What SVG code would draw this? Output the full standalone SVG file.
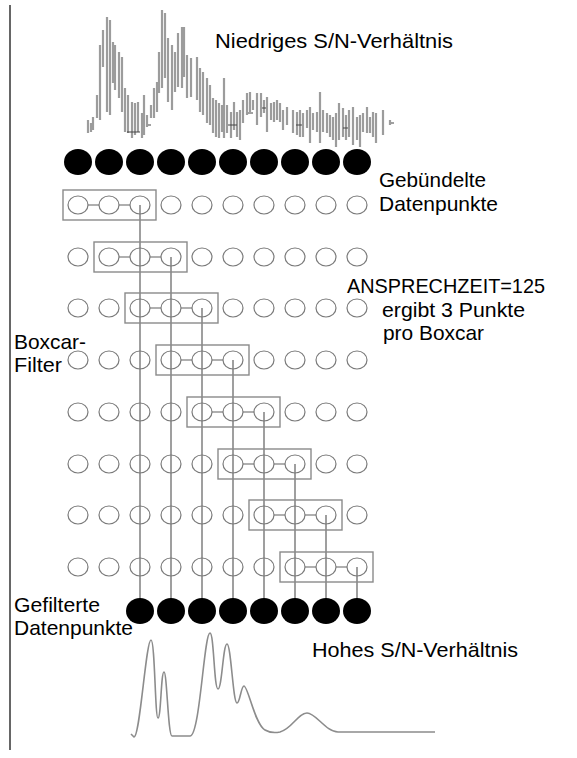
<svg xmlns="http://www.w3.org/2000/svg" width="577" height="758" viewBox="0 0 577 758">
<style>
.bg{fill:#ffffff}
.frame{stroke:#333;stroke-width:1.5;fill:none}
.noise{stroke:#9c9c9c;stroke-width:2.2;fill:none}
.tick{stroke:#444;stroke-width:1;fill:none}
.dot{fill:#000}
.oc{fill:none;stroke:#7a7a7a;stroke-width:1.2}
.box{fill:none;stroke:#8a8a8a;stroke-width:1.4}
.link{stroke:#7a7a7a;stroke-width:1.2}
.conn{stroke:#505050;stroke-width:1.1;fill:none}
.curve{fill:none;stroke:#8c8c8c;stroke-width:1.6;stroke-linejoin:round}
.lbl{font-family:"Liberation Sans Narrow","Liberation Sans",Arial,sans-serif;font-size:21px;fill:#000}
</style>
<defs>
<ellipse id="o" rx="10" ry="9" class="oc"/>
<ellipse id="f" rx="14" ry="13" class="dot"/>
</defs>
<rect class="bg" x="0" y="0" width="577" height="758"/>
<line class="frame" x1="10" y1="5" x2="10" y2="750"/>

<g id="signal-noisy">
<path class="noise" d="M88,120V133M91,123V132M93,117V130M97,95V118M100,45V120M103,30V67M107,17V112M110,20V115M113,42V83M115,45V90M119,52V98M122,57V112M125,88V132M128,95V133M132,102V138M135,103V135M138,102V132M142,113V138M144,95V135M147,115V127M151,105V118M154,88V118M157,82V112M159,52V93M162,10V88M165,13V78M168,38V102M172,45V110M175,52V92M178,33V87M182,27V88M184,27V77M187,55V98M191,58V97M197,57V100M200,68V112M203,72V115M207,78V123M210,85V125M213,98V133M216,100V137M219,103V138M222,105V132M224,78V138M227,105V133M231,112V138M234,102V130M237,112V137M240,110V140M243,100V123M247,93V115M250,92V112M253,100V110M257,93V125M261,93V117M264,100V113M267,97V132M271,103V120M274,102V122M277,100V120M280,103V122M283,110V130M287,107V125M293,110V133M297,112V135M300,110V137M303,113V137M307,110V128M310,107V143M313,113V130M317,112V132M320,92V143M323,110V132M327,113V133M330,115V137M333,117V140M336,113V147M339,103V140M343,108V137M346,115V140M349,110V137M353,107V145M357,117V140M360,115V147M363,113V132M367,107V133M370,117V133M373,112V137M376,113V143M383,110V135M390,120V125"/>
<path class="tick" d="M127,132H140M148,125H151M228,125H237M248,113H253M262,108H266M296,125H302M343,128H348M391,123H394"/>
</g>

<g id="dots-binned">
<use href="#f" x="78" y="162"/><use href="#f" x="109" y="162"/><use href="#f" x="140" y="162"/><use href="#f" x="171" y="162"/><use href="#f" x="202" y="162"/><use href="#f" x="233" y="162"/><use href="#f" x="264" y="162"/><use href="#f" x="295" y="162"/><use href="#f" x="326" y="162"/><use href="#f" x="357" y="162"/>
</g>

<g id="connectors">
<line class="conn" x1="140" y1="205" x2="140" y2="600"/>
<line class="conn" x1="171" y1="257" x2="171" y2="600"/>
<line class="conn" x1="202" y1="308" x2="202" y2="600"/>
<line class="conn" x1="233" y1="360" x2="233" y2="600"/>
<line class="conn" x1="264" y1="412" x2="264" y2="600"/>
<line class="conn" x1="295" y1="464" x2="295" y2="600"/>
<line class="conn" x1="326" y1="515" x2="326" y2="600"/>
<line class="conn" x1="357" y1="567" x2="357" y2="600"/>
</g>

<g id="row1">
<rect class="box" x="63" y="190" width="93" height="30"/>
<line class="link" x1="88" y1="205" x2="99" y2="205"/><line class="link" x1="119" y1="205" x2="130" y2="205"/>
<use href="#o" x="78" y="205"/><use href="#o" x="109" y="205"/><use href="#o" x="140" y="205"/><use href="#o" x="171" y="205"/><use href="#o" x="202" y="205"/><use href="#o" x="233" y="205"/><use href="#o" x="264" y="205"/><use href="#o" x="295" y="205"/><use href="#o" x="326" y="205"/><use href="#o" x="357" y="205"/>
</g>
<g id="row2">
<rect class="box" x="94" y="242" width="93" height="30"/>
<line class="link" x1="119" y1="257" x2="130" y2="257"/><line class="link" x1="150" y1="257" x2="161" y2="257"/>
<use href="#o" x="78" y="257"/><use href="#o" x="109" y="257"/><use href="#o" x="140" y="257"/><use href="#o" x="171" y="257"/><use href="#o" x="202" y="257"/><use href="#o" x="233" y="257"/><use href="#o" x="264" y="257"/><use href="#o" x="295" y="257"/><use href="#o" x="326" y="257"/><use href="#o" x="357" y="257"/>
</g>
<g id="row3">
<rect class="box" x="125" y="293" width="93" height="30"/>
<line class="link" x1="150" y1="308" x2="161" y2="308"/><line class="link" x1="181" y1="308" x2="192" y2="308"/>
<use href="#o" x="78" y="308"/><use href="#o" x="109" y="308"/><use href="#o" x="140" y="308"/><use href="#o" x="171" y="308"/><use href="#o" x="202" y="308"/><use href="#o" x="233" y="308"/><use href="#o" x="264" y="308"/><use href="#o" x="295" y="308"/><use href="#o" x="326" y="308"/><use href="#o" x="357" y="308"/>
</g>
<g id="row4">
<rect class="box" x="156" y="345" width="93" height="30"/>
<line class="link" x1="181" y1="360" x2="192" y2="360"/><line class="link" x1="212" y1="360" x2="223" y2="360"/>
<use href="#o" x="78" y="360"/><use href="#o" x="109" y="360"/><use href="#o" x="140" y="360"/><use href="#o" x="171" y="360"/><use href="#o" x="202" y="360"/><use href="#o" x="233" y="360"/><use href="#o" x="264" y="360"/><use href="#o" x="295" y="360"/><use href="#o" x="326" y="360"/><use href="#o" x="357" y="360"/>
</g>
<g id="row5">
<rect class="box" x="187" y="397" width="93" height="30"/>
<line class="link" x1="212" y1="412" x2="223" y2="412"/><line class="link" x1="243" y1="412" x2="254" y2="412"/>
<use href="#o" x="78" y="412"/><use href="#o" x="109" y="412"/><use href="#o" x="140" y="412"/><use href="#o" x="171" y="412"/><use href="#o" x="202" y="412"/><use href="#o" x="233" y="412"/><use href="#o" x="264" y="412"/><use href="#o" x="295" y="412"/><use href="#o" x="326" y="412"/><use href="#o" x="357" y="412"/>
</g>
<g id="row6">
<rect class="box" x="218" y="449" width="93" height="30"/>
<line class="link" x1="243" y1="464" x2="254" y2="464"/><line class="link" x1="274" y1="464" x2="285" y2="464"/>
<use href="#o" x="78" y="464"/><use href="#o" x="109" y="464"/><use href="#o" x="140" y="464"/><use href="#o" x="171" y="464"/><use href="#o" x="202" y="464"/><use href="#o" x="233" y="464"/><use href="#o" x="264" y="464"/><use href="#o" x="295" y="464"/><use href="#o" x="326" y="464"/><use href="#o" x="357" y="464"/>
</g>
<g id="row7">
<rect class="box" x="249" y="500" width="93" height="30"/>
<line class="link" x1="274" y1="515" x2="285" y2="515"/><line class="link" x1="305" y1="515" x2="316" y2="515"/>
<use href="#o" x="78" y="515"/><use href="#o" x="109" y="515"/><use href="#o" x="140" y="515"/><use href="#o" x="171" y="515"/><use href="#o" x="202" y="515"/><use href="#o" x="233" y="515"/><use href="#o" x="264" y="515"/><use href="#o" x="295" y="515"/><use href="#o" x="326" y="515"/><use href="#o" x="357" y="515"/>
</g>
<g id="row8">
<rect class="box" x="280" y="552" width="93" height="30"/>
<line class="link" x1="305" y1="567" x2="316" y2="567"/><line class="link" x1="336" y1="567" x2="347" y2="567"/>
<use href="#o" x="78" y="567"/><use href="#o" x="109" y="567"/><use href="#o" x="140" y="567"/><use href="#o" x="171" y="567"/><use href="#o" x="202" y="567"/><use href="#o" x="233" y="567"/><use href="#o" x="264" y="567"/><use href="#o" x="295" y="567"/><use href="#o" x="326" y="567"/><use href="#o" x="357" y="567"/>
</g>

<g id="dots-filtered">
<use href="#f" x="140" y="611"/><use href="#f" x="171" y="611"/><use href="#f" x="202" y="611"/><use href="#f" x="233" y="611"/><use href="#f" x="264" y="611"/><use href="#f" x="295" y="611"/><use href="#f" x="326" y="611"/><use href="#f" x="357" y="611"/>
</g>

<g id="signal-smooth">
<path class="curve" d="M131,734 L134,737 C140,737 146,640 151,640 C155,640 155,718 158,718 C161,718 161,672 164,672 C167,672 168,736 172,736 L190,736 C200,736 204,633 210,633 C214,633 214,689 218,689 C222,689 223,644 227,644 C231,644 233,703 237,703 C240,703 241,686 244,686 C248,686 255,725 265,730 C270,733 275,733 280,732 C292,729 298,713 307,713 C316,713 326,732 338,732 L435,732"/>
</g>

<g id="labels">
<text class="lbl" x="215" y="48" textLength="238" lengthAdjust="spacingAndGlyphs">Niedriges S/N-Verhältnis</text>
<text class="lbl" x="379" y="187" textLength="107" lengthAdjust="spacingAndGlyphs">Gebündelte</text>
<text class="lbl" x="379" y="211" textLength="119" lengthAdjust="spacingAndGlyphs">Datenpunkte</text>
<text class="lbl" x="347" y="293" textLength="198" lengthAdjust="spacingAndGlyphs">ANSPRECHZEIT=125</text>
<text class="lbl" x="382" y="317" textLength="143" lengthAdjust="spacingAndGlyphs">ergibt 3 Punkte</text>
<text class="lbl" x="383" y="340" textLength="101" lengthAdjust="spacingAndGlyphs">pro Boxcar</text>
<text class="lbl" x="14" y="349" textLength="72" lengthAdjust="spacingAndGlyphs">Boxcar-</text>
<text class="lbl" x="14" y="372" textLength="48" lengthAdjust="spacingAndGlyphs">Filter</text>
<text class="lbl" x="14" y="612" textLength="86" lengthAdjust="spacingAndGlyphs">Gefilterte</text>
<text class="lbl" x="14" y="635" textLength="119" lengthAdjust="spacingAndGlyphs">Datenpunkte</text>
<text class="lbl" x="312" y="657" textLength="206" lengthAdjust="spacingAndGlyphs">Hohes S/N-Verhältnis</text>
</g>
</svg>
